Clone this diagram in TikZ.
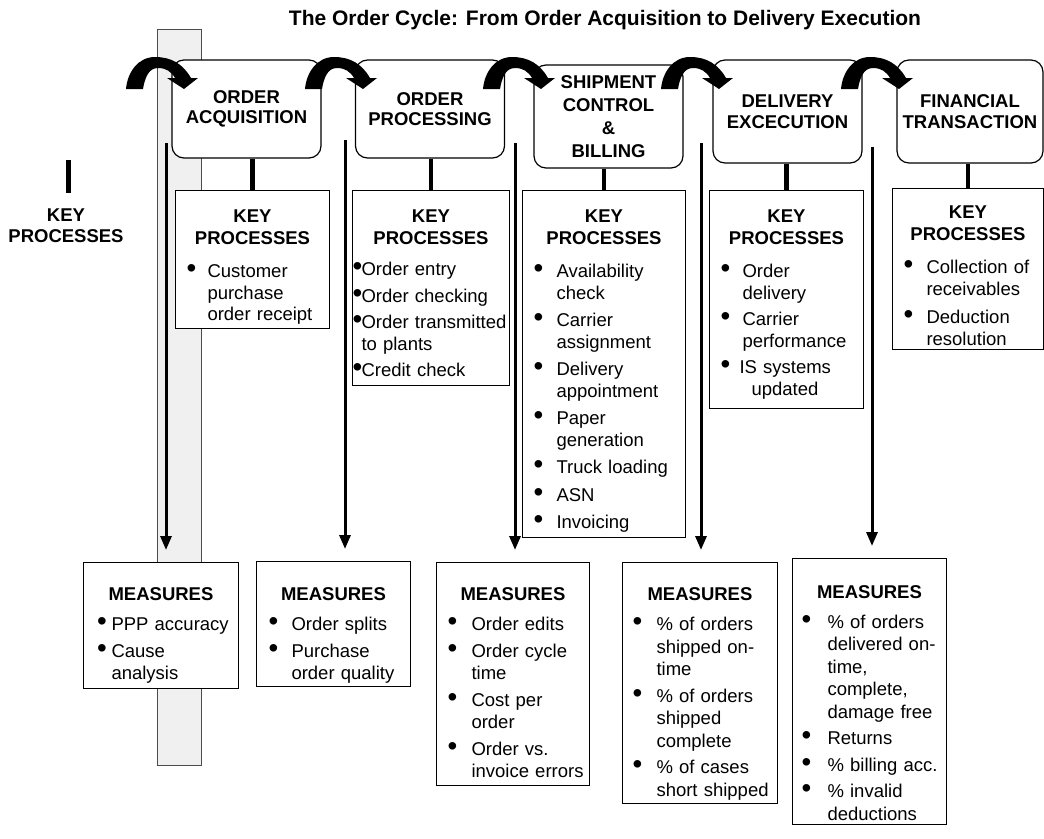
\documentclass[tikz,border=0pt]{standalone}
\usepackage{fontspec}
\usepackage{graphicx}
\setmainfont{Liberation Sans}
\usetikzlibrary{arrows.meta}

\newlength{\bulx}
\newlength{\txtx}
% bullet line and continuation line inside a box
\newcommand{\itm}[1]{\makebox[\linewidth][l]{\hspace*{\bulx}\makebox[\dimexpr\txtx-\bulx\relax][l]{\scalebox{1.5}{\textbullet}}#1}}
\newcommand{\cnt}[1]{\makebox[\linewidth][l]{\hspace*{\txtx}#1}}
\newcommand{\kphead}[1]{\rule{0pt}{#1}\textbf{KEY}\\\textbf{PROCESSES}}
\newcommand{\mshead}[1]{\rule{0pt}{#1}\textbf{MEASURES}}
\newcommand{\strutdown}[1]{\rule[-#1]{0pt}{#1}}

\tikzset{
  cyclearrow/.pic={
    \fill (-58,0) to[out=85,in=180] (-29,32) to[out=0,in=120] (7,11)
      -- (14,11) -- (0,0) -- (-17,11) -- (-9,11)
      to[out=120,in=0] (-26,21) to[out=180,in=80] (-41,0) -- cycle;
  }
}

\begin{document}
\begin{tikzpicture}[x=1pt,y=1pt,
  stage/.style={draw, fill=white, rounded corners=12pt, line width=1.2pt, minimum width=149pt,
    inner sep=0pt, align=center, font=\bfseries\fontsize{18.5}{20.5}\selectfont},
  infobox/.style={draw, fill=white, line width=1pt, anchor=north west, inner sep=0pt,
    align=center, font=\fontsize{18.5}{21.5}\selectfont},
  measbox/.style={infobox, font=\fontsize{18.5}{22.5}\selectfont},
  bulletat/.style 2 args={execute at begin node={\setlength{\bulx}{#1}\setlength{\txtx}{#2}}},
  stub/.style={line width=4.5pt},
  flow/.style={line width=3pt, -{Triangle[width=11pt,length=14pt]}}]
  \useasboundingbox (0,0) rectangle (1044,-838);

  % title
  \node[font=\bfseries\fontsize{21}{24}\selectfont, anchor=base] (title) at (605,-25)
    {The Order Cycle: From Order Acquisition to Delivery Execution};

  % shaded column behind the first stage
  \fill[gray!12, draw=black!70, line width=0.8pt] (157,-29) rectangle (201,-765);

  % row label
  \draw[line width=5pt] (68,-160) -- (68,-193);
  \node[font=\bfseries\fontsize{18.5}{21.5}\selectfont, align=center, anchor=north, inner sep=0pt]
    (kplabel) at (66,-208.5) {KEY\\PROCESSES};

  % stages
  \node[stage, minimum height=98pt] (s1) at (246.5,-109) {ORDER\\ACQUISITION};
  \node[stage, minimum height=98pt] (s2) at (430,-109) {ORDER\\PROCESSING};
  \node[stage, minimum height=103pt, font=\bfseries\fontsize{18.5}{23}\selectfont]
    (s3) at (608.5,-116.5) {SHIPMENT\\CONTROL\\\&\\BILLING};
  \node[stage, minimum height=103pt] (s4) at (787.5,-111.5) {DELIVERY\\EXCECUTION};
  \node[stage, minimum height=103pt, minimum width=146pt] (s5) at (970,-111.5) {FINANCIAL\\TRANSACTION};

  % key processes
  \node[infobox, text width=154pt, bulletat={11pt}{32pt}] (kp1) at (175,-190) {%
    \kphead{32pt}\\[12pt]
    \itm{Customer}\\ \cnt{purchase}\\ \cnt{order receipt\strutdown{8pt}}};
  \node[infobox, text width=157pt, bulletat={0pt}{9pt}] (kp2) at (352,-190) {%
    \kphead{32pt}\\[10pt]
    \itm{Order entry}\\[5pt]
    \itm{Order checking}\\[5pt]
    \itm{Order transmitted}\\ \cnt{to plants}\\[5pt]
    \itm{Credit check\strutdown{9pt}}};
  \node[infobox, text width=163pt, bulletat={11pt}{34pt}] (kp3) at (522,-190) {%
    \kphead{32pt}\\[12pt]
    \itm{Availability}\\ \cnt{check}\\[6pt]
    \itm{Carrier}\\ \cnt{assignment}\\[6pt]
    \itm{Delivery}\\ \cnt{appointment}\\[6pt]
    \itm{Paper}\\ \cnt{generation}\\[6pt]
    \itm{Truck loading}\\[6pt]
    \itm{ASN}\\[6pt]
    \itm{Invoicing\strutdown{9pt}}};
  \node[infobox, text width=154pt, bulletat={11pt}{33pt}] (kp4) at (709,-190) {%
    \kphead{32pt}\\[12pt]
    \itm{Order}\\ \cnt{delivery}\\[5pt]
    \itm{Carrier}\\ \cnt{performance}\\[5pt]
    \itm{\hspace*{-3pt}IS systems}\\ \cnt{\hspace*{9pt}updated\strutdown{13.5pt}}};
  \node[infobox, text width=151pt, bulletat={11pt}{34pt}] (kp5) at (892,-188) {%
    \kphead{30pt}\\[12pt]
    \itm{Collection of}\\ \cnt{receivables}\\[7pt]
    \itm{Deduction}\\ \cnt{resolution\strutdown{4.5pt}}};

  % measures
  \node[measbox, text width=155pt, bulletat={13.5pt}{28pt}] (ms1) at (83,-562) {%
    \mshead{38pt}\\[7.5pt]
    \itm{PPP accuracy}\\[4pt]
    \itm{Cause}\\ \cnt{analysis\strutdown{9pt}}};
  \node[measbox, text width=154pt, bulletat={12pt}{35pt}] (ms2) at (256,-561) {%
    \mshead{39pt}\\[7.5pt]
    \itm{Order splits}\\[4pt]
    \itm{Purchase}\\ \cnt{order quality\strutdown{7pt}}};
  \node[measbox, text width=153pt, bulletat={11pt}{35pt}] (ms3) at (436,-562) {%
    \mshead{38pt}\\[7.5pt]
    \itm{Order edits}\\[4pt]
    \itm{Order cycle}\\ \cnt{time}\\[4pt]
    \itm{Cost per}\\ \cnt{order}\\[4pt]
    \itm{Order vs.}\\ \cnt{invoice errors\strutdown{8pt}}};
  \node[measbox, text width=155pt, bulletat={10pt}{34pt}] (ms4) at (622,-562) {%
    \mshead{38pt}\\[7.5pt]
    \itm{\% of orders}\\ \cnt{shipped on-}\\ \cnt{time}\\[4pt]
    \itm{\% of orders}\\ \cnt{shipped}\\ \cnt{complete}\\[4pt]
    \itm{\% of cases}\\ \cnt{short shipped\strutdown{7.5pt}}};
  \node[measbox, text width=154pt, bulletat={9pt}{35pt}] (ms5) at (792,-558) {%
    \mshead{40pt}\\[7pt]
    \itm{\% of orders}\\ \cnt{delivered on-}\\ \cnt{time,}\\ \cnt{complete,}\\ \cnt{damage free}\\[4pt]
    \itm{Returns}\\[4pt]
    \itm{\% billing acc.}\\[4pt]
    \itm{\% invalid}\\ \cnt{deductions\strutdown{4pt}}};

  % stage to key processes
  \foreach \i in {1,...,5}
    \draw[stub] (kp\i.north |- s\i.south) -- (kp\i.north);

  % down arrows to the measures
  \foreach \i/\x/\y in {1/166/143, 2/345/140, 3/515/143, 4/701/143, 5/872/147} {
    \coordinate (top\i) at (\x,-\y);
    \draw[flow, shorten >=12pt] (top\i) -- (top\i |- ms\i.north);
  }

  % curved arrows between stages
  \foreach \x in {184,363,541,719,899}
    \pic at (\x,-89) {cyclearrow};
\end{tikzpicture}
\end{document}
